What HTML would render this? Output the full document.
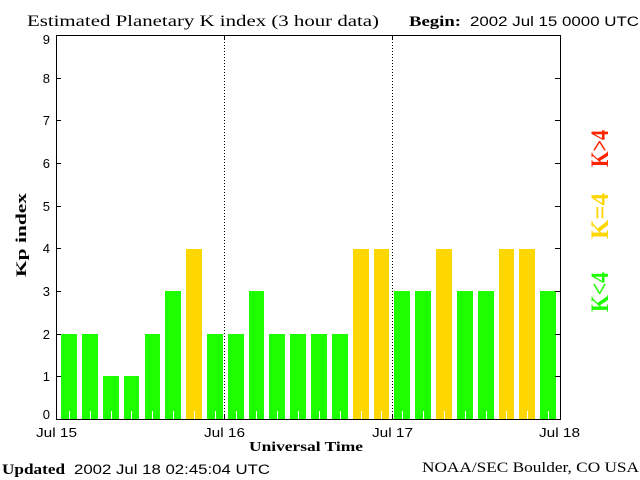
<!DOCTYPE html>
<html><head><meta charset="utf-8"><style>
html,body{margin:0;padding:0;background:#fff;}
svg{display:block;}
.sans{font-family:"Liberation Sans",sans-serif;}
.serif{font-family:"Liberation Serif",serif;}
</style></head><body>
<svg width="640" height="480" viewBox="0 0 640 480" xmlns="http://www.w3.org/2000/svg">
<rect x="0" y="0" width="640" height="480" fill="#fff"/>
<!-- title -->
<text class="serif" x="27" y="26" font-size="16" textLength="352" lengthAdjust="spacingAndGlyphs">Estimated Planetary K index (3 hour data)</text>
<text class="serif" x="409" y="26" font-size="15" font-weight="bold" textLength="52" lengthAdjust="spacingAndGlyphs">Begin:</text>
<text class="sans" x="470" y="26" font-size="13.5" textLength="169" lengthAdjust="spacingAndGlyphs">2002 Jul 15 0000 UTC</text>

<!-- bars -->
<g shape-rendering="crispEdges">
<rect x="61" y="334" width="16" height="85" fill="#1eff00"/>
<rect x="82" y="334" width="16" height="85" fill="#1eff00"/>
<rect x="103" y="376" width="16" height="43" fill="#1eff00"/>
<rect x="124" y="376" width="15" height="43" fill="#1eff00"/>
<rect x="145" y="334" width="15" height="85" fill="#1eff00"/>
<rect x="165" y="291" width="16" height="128" fill="#1eff00"/>
<rect x="186" y="249" width="16" height="170" fill="#ffd700"/>
<rect x="207" y="334" width="16" height="85" fill="#1eff00"/>
<rect x="228" y="334" width="16" height="85" fill="#1eff00"/>
<rect x="249" y="291" width="15" height="128" fill="#1eff00"/>
<rect x="269" y="334" width="16" height="85" fill="#1eff00"/>
<rect x="290" y="334" width="16" height="85" fill="#1eff00"/>
<rect x="311" y="334" width="16" height="85" fill="#1eff00"/>
<rect x="332" y="334" width="16" height="85" fill="#1eff00"/>
<rect x="353" y="249" width="16" height="170" fill="#ffd700"/>
<rect x="374" y="249" width="15" height="170" fill="#ffd700"/>
<rect x="394" y="291" width="16" height="128" fill="#1eff00"/>
<rect x="415" y="291" width="16" height="128" fill="#1eff00"/>
<rect x="436" y="249" width="16" height="170" fill="#ffd700"/>
<rect x="457" y="291" width="16" height="128" fill="#1eff00"/>
<rect x="478" y="291" width="16" height="128" fill="#1eff00"/>
<rect x="499" y="249" width="15" height="170" fill="#ffd700"/>
<rect x="519" y="249" width="16" height="170" fill="#ffd700"/>
<rect x="540" y="291" width="16" height="128" fill="#1eff00"/>
</g>
<!-- white minor ticks -->
<g stroke="#fff" stroke-width="1" shape-rendering="crispEdges">
<line x1="69.5" y1="411" x2="69.5" y2="419"/>
<line x1="90.5" y1="411" x2="90.5" y2="419"/>
<line x1="111.5" y1="411" x2="111.5" y2="419"/>
<line x1="131.5" y1="411" x2="131.5" y2="419"/>
<line x1="152.5" y1="411" x2="152.5" y2="419"/>
<line x1="173.5" y1="411" x2="173.5" y2="419"/>
<line x1="194.5" y1="411" x2="194.5" y2="419"/>
<line x1="215.5" y1="411" x2="215.5" y2="419"/>
<line x1="236.5" y1="411" x2="236.5" y2="419"/>
<line x1="256.5" y1="411" x2="256.5" y2="419"/>
<line x1="277.5" y1="411" x2="277.5" y2="419"/>
<line x1="298.5" y1="411" x2="298.5" y2="419"/>
<line x1="319.5" y1="411" x2="319.5" y2="419"/>
<line x1="340.5" y1="411" x2="340.5" y2="419"/>
<line x1="361.5" y1="411" x2="361.5" y2="419"/>
<line x1="381.5" y1="411" x2="381.5" y2="419"/>
<line x1="402.5" y1="411" x2="402.5" y2="419"/>
<line x1="423.5" y1="411" x2="423.5" y2="419"/>
<line x1="444.5" y1="411" x2="444.5" y2="419"/>
<line x1="465.5" y1="411" x2="465.5" y2="419"/>
<line x1="486.5" y1="411" x2="486.5" y2="419"/>
<line x1="506.5" y1="411" x2="506.5" y2="419"/>
<line x1="527.5" y1="411" x2="527.5" y2="419"/>
<line x1="548.5" y1="411" x2="548.5" y2="419"/>
</g>

<!-- dotted day lines -->
<g stroke="#000" stroke-width="1" shape-rendering="crispEdges">
<line x1="224.5" y1="39" x2="224.5" y2="415" stroke-dasharray="1 2"/>
<line x1="392.5" y1="39" x2="392.5" y2="415" stroke-dasharray="1 2"/>
<line x1="224.5" y1="35" x2="224.5" y2="40"/>
<line x1="392.5" y1="35" x2="392.5" y2="40"/>
<line x1="224.5" y1="414" x2="224.5" y2="419"/>
<line x1="392.5" y1="414" x2="392.5" y2="419"/>
</g>

<!-- axes frame -->
<g stroke="#000" stroke-width="1" fill="none" shape-rendering="crispEdges">
<line x1="56.5" y1="35" x2="56.5" y2="420"/>
<line x1="560.5" y1="35" x2="560.5" y2="420"/>
<line x1="56" y1="35.5" x2="561" y2="35.5"/>
<line x1="56" y1="419.5" x2="561" y2="419.5"/>
<!-- y ticks -->
<line x1="56" y1="376.5" x2="61" y2="376.5"/><line x1="555" y1="376.5" x2="560" y2="376.5"/>
<line x1="56" y1="334.5" x2="61" y2="334.5"/><line x1="555" y1="334.5" x2="560" y2="334.5"/>
<line x1="56" y1="291.5" x2="61" y2="291.5"/><line x1="555" y1="291.5" x2="560" y2="291.5"/>
<line x1="56" y1="248.5" x2="61" y2="248.5"/><line x1="555" y1="248.5" x2="560" y2="248.5"/>
<line x1="56" y1="206.5" x2="61" y2="206.5"/><line x1="555" y1="206.5" x2="560" y2="206.5"/>
<line x1="56" y1="163.5" x2="61" y2="163.5"/><line x1="555" y1="163.5" x2="560" y2="163.5"/>
<line x1="56" y1="120.5" x2="61" y2="120.5"/><line x1="555" y1="120.5" x2="560" y2="120.5"/>
<line x1="56" y1="78.5" x2="61" y2="78.5"/><line x1="555" y1="78.5" x2="560" y2="78.5"/>
</g>

<!-- y labels -->
<g class="sans" font-size="13" text-anchor="end" fill="#000">
<text x="50" y="419">0</text>
<text x="50" y="381">1</text>
<text x="50" y="339">2</text>
<text x="50" y="296">3</text>
<text x="50" y="253">4</text>
<text x="50" y="211">5</text>
<text x="50" y="168">6</text>
<text x="50" y="125">7</text>
<text x="50" y="83">8</text>
<text x="50" y="44">9</text>
</g>

<!-- x labels -->
<g class="sans" font-size="13" fill="#000">
<text x="36" y="437" textLength="41" lengthAdjust="spacingAndGlyphs">Jul 15</text>
<text x="204" y="437" textLength="41" lengthAdjust="spacingAndGlyphs">Jul 16</text>
<text x="372" y="437" textLength="41" lengthAdjust="spacingAndGlyphs">Jul 17</text>
<text x="539" y="437" textLength="41" lengthAdjust="spacingAndGlyphs">Jul 18</text>
</g>
<text class="serif" x="249" y="451" font-size="14" font-weight="bold" textLength="114" lengthAdjust="spacingAndGlyphs">Universal Time</text>

<!-- y axis title -->
<text class="serif" transform="translate(26,277) rotate(-90)" font-size="15" font-weight="bold" textLength="84" lengthAdjust="spacingAndGlyphs">Kp index</text>

<!-- legend -->
<text class="serif" transform="translate(608,312) rotate(-90)" font-size="25" font-weight="bold" fill="#1eff00" textLength="40" lengthAdjust="spacingAndGlyphs">K&lt;4</text>
<text class="serif" transform="translate(608,239) rotate(-90)" font-size="25" font-weight="bold" fill="#ffd700" textLength="46" lengthAdjust="spacingAndGlyphs">K=4</text>
<text class="serif" transform="translate(608,167) rotate(-90)" font-size="25" font-weight="bold" fill="#ff2400" textLength="37" lengthAdjust="spacingAndGlyphs">K&gt;4</text>

<!-- footer -->
<text class="serif" x="2" y="474" font-size="15" font-weight="bold" textLength="63" lengthAdjust="spacingAndGlyphs">Updated</text>
<text class="sans" x="74" y="474" font-size="13.5" textLength="196" lengthAdjust="spacingAndGlyphs">2002 Jul 18 02:45:04 UTC</text>
<text class="serif" x="422" y="472" font-size="15" textLength="217" lengthAdjust="spacingAndGlyphs">NOAA/SEC Boulder, CO USA</text>
</svg>
</body></html>
